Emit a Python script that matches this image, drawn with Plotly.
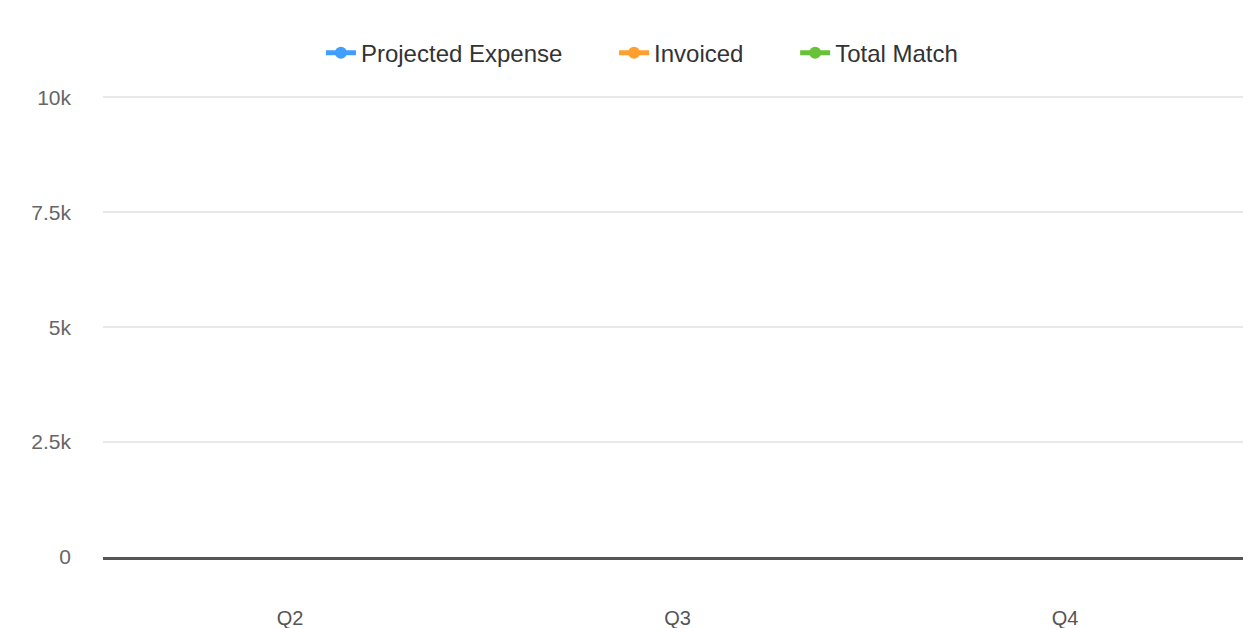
import plotly.graph_objects as go

categories = ["Q2", "Q3", "Q4"]
projected_expense = [None, None, None]
invoiced = [None, None, None]
total_match = [None, None, None]
y_tick_vals = [0, 2500, 5000, 7500, 10000]
y_tick_text = ["0", "2.5k", "5k", "7.5k", "10k"]

series_names = ["Projected Expense", "Invoiced", "Total Match"]
series_values = [projected_expense, invoiced, total_match]
series_colors = ["#409EFF", "#FF9F2E", "#67C23A"]

PAD = "\u00a0" * 7

fig = go.Figure()
for i, (name, vals, color) in enumerate(zip(series_names, series_values, series_colors)):
    label = name + (PAD if i < len(series_names) - 1 else "")
    fig.add_trace(go.Scatter(
        x=categories, y=vals, name=label, mode="lines+markers",
        line=dict(color=color, width=3),
        marker=dict(color=color, size=7),
    ))

# page has an 8px body margin, so the figure is sized to fit the window
fig.update_layout(
    width=1243, height=620,
    margin=dict(l=95, r=0, t=87, b=71, autoexpand=False),
    paper_bgcolor="white", plot_bgcolor="white",
    font=dict(family="Liberation Sans, Arial, sans-serif", color="#666"),
    showlegend=True,
    legend=dict(
        orientation="h", xref="container", yref="container",
        x=0.510, xanchor="center", y=0.927, yanchor="middle",
        font=dict(size=24, color="#333"),
        itemsizing="constant",
    ),
    xaxis=dict(
        type="category", categoryorder="array", categoryarray=categories,
        range=[-0.483, 2.48], showgrid=False, zeroline=False, automargin=False,
        showline=True, linecolor="#555", linewidth=3, layer="above traces",
        ticks="", ticklabelstandoff=41,
        tickfont=dict(size=20, color="#555"),
    ),
    yaxis=dict(
        range=[0, 10050], tickvals=y_tick_vals, ticktext=y_tick_text,
        showgrid=True, gridcolor="#e8e8e8", gridwidth=2, automargin=False,
        zeroline=False, showline=False, ticks="",
        ticklabelstandoff=31,
        tickfont=dict(size=21, color="#666"),
    ),
)

fig.write_html("out.html")
